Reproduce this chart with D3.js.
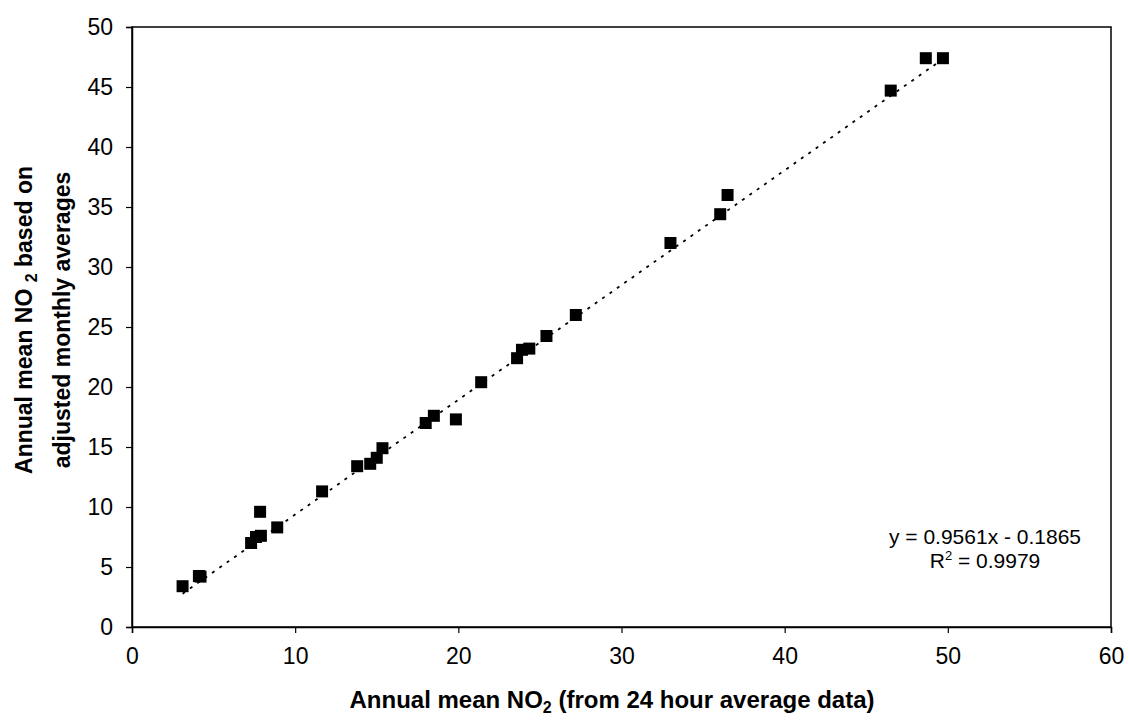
<!DOCTYPE html>
<html>
<head>
<meta charset="utf-8">
<script src="https://cdn.jsdelivr.net/npm/d3@7"></script>
<style>
  body { margin: 0; background: #fff; }
  svg { display: block; font-family: Arial, "Liberation Sans", sans-serif; }
</style>
</head>
<body>
<svg id="chart" width="1129" height="722"></svg>
<script>
// Data
const annualFrom24h = [3.1, 4.1, 4.2, 7.3, 7.6, 7.9, 7.85, 8.9, 11.65, 13.8, 14.6, 15.0, 15.35, 18.0, 18.5, 19.85, 21.4, 23.6, 23.9, 24.35, 25.4, 27.2, 33.0, 36.05, 36.5, 46.5, 48.65, 49.7];
const annualFromMonthly = [3.4, 4.25, 4.2, 7.0, 7.5, 7.6, 9.6, 8.3, 11.3, 13.4, 13.6, 14.1, 14.9, 17.0, 17.6, 17.3, 20.4, 22.4, 23.1, 23.2, 24.25, 26.0, 32.0, 34.4, 36.0, 44.7, 47.4, 47.4];
const xTicks = [0, 10, 20, 30, 40, 50, 60];
const yTicks = [0, 5, 10, 15, 20, 25, 30, 35, 40, 45, 50];
const slope = 0.9561;
const intercept = -0.1865;
const rSquared = "0.9979";

const points = annualFrom24h.map((x, i) => ({ x, y: annualFromMonthly[i] }));

const svg = d3.select("#chart");
const margin = { left: 132, right: 18, top: 27, bottom: 95 };
const width = 1129;
const height = 722;

//Scales
const x = d3.scaleLinear().domain([0, 60]).range([margin.left, width - margin.right]);
const y = d3.scaleLinear().domain([0, 50]).range([height - margin.bottom, margin.top]);

//Plot area border
svg.append("rect")
  .attr("x", x(0))
  .attr("y", y(50))
  .attr("width", x(60) - x(0))
  .attr("height", y(0) - y(50))
  .attr("fill", "none")
  .attr("stroke", "#000")
  .attr("stroke-width", 1.5);

//Axes
const xAxis = svg.append("g")
  .attr("transform", `translate(0, ${y(0)})`)
  .call(d3.axisBottom(x).tickValues(xTicks).tickSize(6).tickPadding(15));
const yAxis = svg.append("g")
  .attr("transform", `translate(${x(0)}, 0)`)
  .call(d3.axisLeft(y).tickValues(yTicks).tickSize(6).tickPadding(13));

[xAxis, yAxis].forEach((ax) => {
  ax.select(".domain").attr("stroke", "#000").attr("stroke-width", 1.5);
  ax.selectAll(".tick line").attr("stroke", "#000").attr("stroke-width", 1.2);
  ax.selectAll(".tick text")
    .attr("fill", "#000")
    .style("font-size", "23px")
    .style("font-family", "Arial, 'Liberation Sans', sans-serif");
});

//Trend line
const xMin = d3.min(annualFrom24h);
const xMax = d3.max(annualFrom24h);
svg.append("line")
  .attr("x1", x(xMin))
  .attr("y1", y(slope * xMin + intercept))
  .attr("x2", x(xMax))
  .attr("y2", y(slope * xMax + intercept))
  .attr("stroke", "#000")
  .attr("stroke-width", 1.8)
  .attr("stroke-dasharray", "3,6");

//Markers
const markerSize = 12;
svg.append("g")
  .selectAll("rect")
  .data(points)
  .enter()
  .append("rect")
  .attr("x", (d) => x(d.x) - markerSize / 2)
  .attr("y", (d) => y(d.y) - markerSize / 2)
  .attr("width", markerSize)
  .attr("height", markerSize)
  .attr("fill", "#000");

//Equation label
svg.append("text")
  .attr("text-anchor", "middle")
  .attr("x", 985)
  .attr("y", 544)
  .style("font-size", "21px")
  .attr("fill", "#000")
  .text(`y = ${slope}x - ${Math.abs(intercept)}`);
const r2 = svg.append("text")
  .attr("text-anchor", "middle")
  .attr("x", 985)
  .attr("y", 568)
  .style("font-size", "21px")
  .attr("fill", "#000");
r2.append("tspan").text("R");
r2.append("tspan").attr("dy", -8).style("font-size", "13px").text("2");
r2.append("tspan").attr("dy", 8).text(` = ${rSquared}`);

//X axis title
const xTitle = svg.append("text")
  .attr("text-anchor", "middle")
  .attr("x", 612)
  .attr("y", 708)
  .style("font-size", "24px")
  .style("font-weight", "bold")
  .attr("fill", "#000");
xTitle.append("tspan").text("Annual mean NO");
xTitle.append("tspan").attr("dy", 5).style("font-size", "16px").text("2");
xTitle.append("tspan").attr("dy", -5).text(" (from 24 hour average data)");

//Y axis title (two lines)
const yTitle = svg.append("text")
  .attr("text-anchor", "middle")
  .attr("transform", "translate(0, 320) rotate(-90)")
  .style("font-size", "23px")
  .style("font-weight", "bold")
  .attr("fill", "#000");
yTitle.append("tspan").attr("x", 0).attr("y", 32).text("Annual mean NO ");
yTitle.append("tspan").attr("dy", 5).style("font-size", "16px").text("2");
yTitle.append("tspan").attr("dy", -5).text(" based on");
yTitle.append("tspan").attr("x", 0).attr("y", 70).text("adjusted monthly averages");
</script>
</body>
</html>
